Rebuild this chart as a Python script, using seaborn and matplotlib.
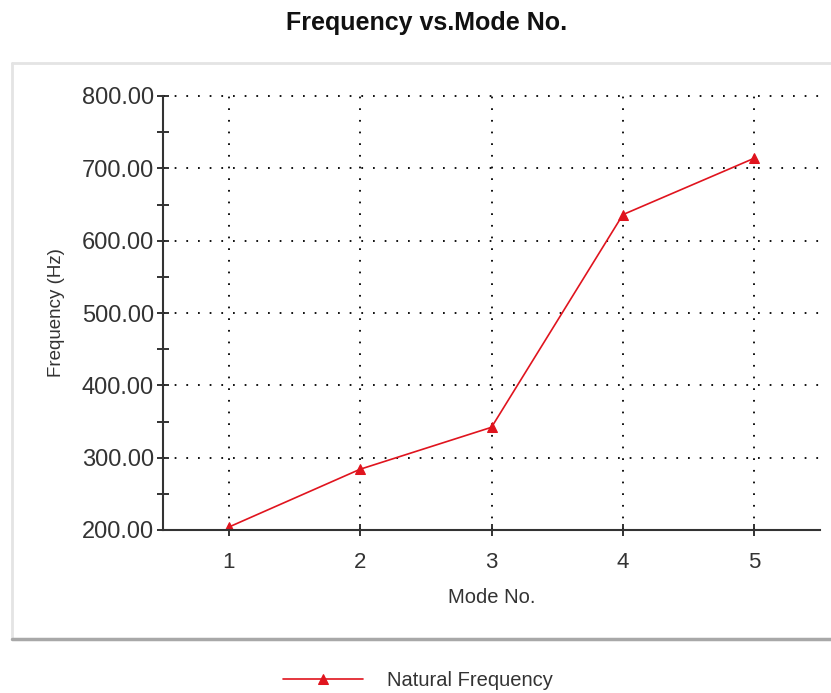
import numpy as np
import pandas as pd
import matplotlib
matplotlib.use("Agg")
import matplotlib.pyplot as plt
from matplotlib.lines import Line2D
from matplotlib.ticker import MultipleLocator, FormatStrFormatter
import seaborn as sns

# data
mode_no = [1, 2, 3, 4, 5]
freq_hz = [204, 284, 342, 636, 714]
series_name = "Natural Frequency"

df = pd.DataFrame({"Mode No.": mode_no, "Frequency (Hz)": freq_hz})

sns.set_style("white")
plt.rcParams['font.family'] = ['Liberation Sans', 'DejaVu Sans']

fig = plt.figure(figsize=(8.31, 6.93), dpi=100)
W, H = 831, 693
ax = fig.add_axes([163 / W, 1 - 530 / H, (820 - 163) / W, (530 - 96) / H])

sns.lineplot(data=df, x="Mode No.", y="Frequency (Hz)", ax=ax, color="#e0141e",
             linewidth=1.2, marker="^", markersize=7, markeredgecolor="#e0141e",
             label=series_name, legend=False)

ax.set_xlim(0.5, 5.5)
ax.set_ylim(200, 800)
ax.xaxis.set_major_locator(MultipleLocator(1))
ax.yaxis.set_major_locator(MultipleLocator(100))
ax.yaxis.set_minor_locator(MultipleLocator(50))
ax.yaxis.set_major_formatter(FormatStrFormatter("%.2f"))

ax.grid(True, which="major", color="#111111", linestyle=(0, (0.9, 5.1)), linewidth=1.4)
for gl in ax.get_xgridlines() + ax.get_ygridlines():
    gl.set_clip_on(False)
ax.set_axisbelow(True)

for s in ["top", "right"]:
    ax.spines[s].set_visible(False)
for s in ["left", "bottom"]:
    ax.spines[s].set_color("#333333")
    ax.spines[s].set_linewidth(1.5)

ax.tick_params(axis="both", which="major", direction="inout", length=9, width=1.3,
               color="#222222", labelsize=17, labelcolor="#333333", pad=2,
               left=True, bottom=True)
ax.tick_params(axis="y", which="minor", direction="inout", length=9, width=1.3,
               color="#222222", left=True)
ax.tick_params(axis="x", labelsize=16, pad=11)

ax.set_xlabel("Mode No.", fontsize=14.5, color="#333333", labelpad=11)
ax.set_ylabel("Frequency (Hz)", fontsize=13.5, color="#333333", labelpad=12)

fig.text(427 / W, 1 - 23 / H, "Frequency vs.Mode No.", ha="center", va="center",
         fontsize=18, fontweight="bold", color="#111111")

# panel border round the plot
fig.add_artist(Line2D([12 / W, 1], [1 - 63 / H, 1 - 63 / H], transform=fig.transFigure,
                      color="#e4e4e4", linewidth=2))
fig.add_artist(Line2D([12 / W, 12 / W], [1 - 63 / H, 1 - 639 / H], transform=fig.transFigure,
                      color="#e4e4e4", linewidth=2))
fig.add_artist(Line2D([12 / W, 1], [1 - 639 / H, 1 - 639 / H], transform=fig.transFigure,
                      color="#a8a8a8", linewidth=2.5))

handles, labels = ax.get_legend_handles_labels()
fig.legend(handles, labels, loc="center", bbox_to_anchor=(418 / W, 1 - 681 / H),
           frameon=False, fontsize=14.5, handlelength=4, handletextpad=1.2,
           labelcolor="#333333")

fig.savefig("out.png", dpi=100)
